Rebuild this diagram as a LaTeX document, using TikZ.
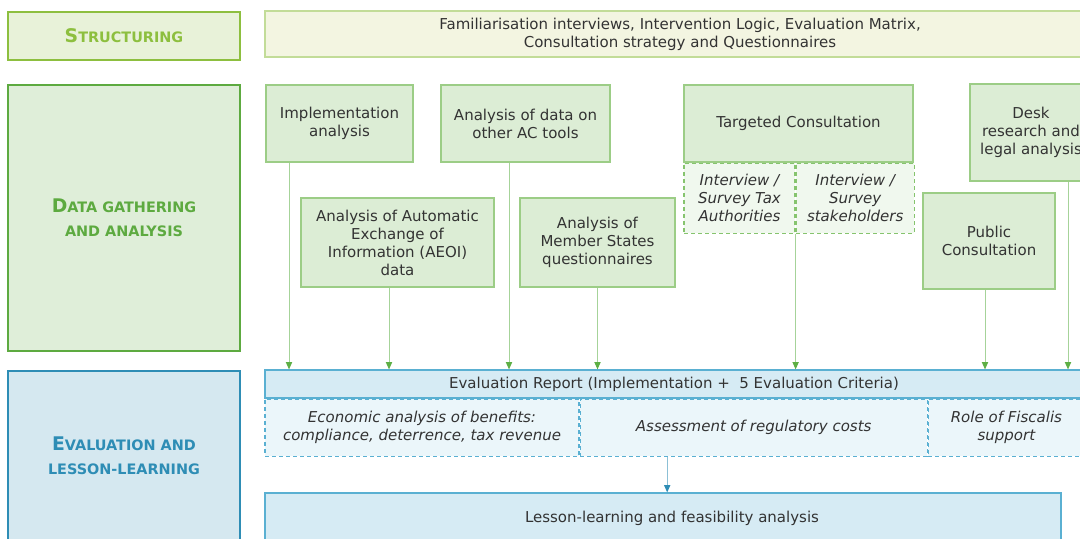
\documentclass[tikz,border=0pt]{standalone}
\usepackage{fontspec}
\setmainfont{DejaVu Sans}
\usetikzlibrary{arrows.meta,positioning}
\definecolor{strC}{HTML}{8DBF3F}
\definecolor{datC}{HTML}{5DAA40}
\definecolor{evaC}{HTML}{2E8DB5}
\definecolor{jauneC}{HTML}{C3CF6A}
\definecolor{jauneB}{HTML}{C2DC98}
\definecolor{vertB}{HTML}{9CCD86}
\definecolor{vertD}{HTML}{86C46E}
\definecolor{bleuB}{HTML}{5AB0D2}
\definecolor{fleV}{HTML}{5DAF45}
\definecolor{texte}{HTML}{333333}
% petites capitales simulees (grande initiale + reste en plus petit)
\newcommand{\capsc}[2]{{\fontsize{9.4}{10.5}\selectfont #1}{\fontsize{7.2}{10.5}\selectfont #2}}
\newcommand{\petit}[1]{{\fontsize{7.2}{10.5}\selectfont #1}}
\tikzset{
  tag/.style={rectangle, draw=#1, line width=1.2pt, fill=#1!20, text=#1,
              align=center, font=\bfseries, minimum width=116pt},
  boite/.style={rectangle, draw=#1, line width=0.6pt, fill=#1!35, text=texte,
                align=center, font=\fontsize{7.5}{9}\selectfont, inner sep=1pt},
  tiret/.style={rectangle, draw=#1, dash pattern=on 2pt off 1.5pt, line width=0.6pt, fill=#1!12,
                text=texte, align=center, font=\fontsize{7.5}{9}\selectfont\itshape, inner sep=1pt},
  fleche/.style={-{Triangle[length=1.3mm,width=1.1mm,color=#1]}, line width=0.5pt, draw=#1!55},
}
\begin{document}
\begin{tikzpicture}[x=0.5pt, y=-0.5pt, node distance=0pt]
  \useasboundingbox (0,0) rectangle (1080,538);
  \clip (0,0) rectangle (1080,538);
  % colonne des phases
  \node[tag=strC, minimum height=24pt] (lstr) at (124,36) {\capsc{S}{TRUCTURING}};
  \node[tag=datC, minimum height=133pt] (ldat) at (124,218)
    {\capsc{D}{ATA GATHERING}\\\petit{AND ANALYSIS}};
  \node[tag=evaC, minimum height=85pt] (leva) at (124,456)
    {\capsc{E}{VALUATION AND}\\\petit{LESSON-LEARNING}};
  % structuration
  \node[boite=jauneB, fill=jauneC!20, minimum width=415pt, minimum height=23pt] (cstr) at (680,34)
    {Familiarisation interviews, Intervention Logic, Evaluation Matrix,\\
     Consultation strategy and Questionnaires};
  % collecte des donnees
  \node[boite=vertB, minimum width=73.5pt, minimum height=38.5pt] (impl) at (339.5,123.5)
    {Implementation\\analysis};
  \node[boite=vertB, minimum width=84.5pt, minimum height=38.5pt] (actl) at (525.5,123.5)
    {Analysis of data on\\other AC tools};
  \node[boite=vertB, minimum width=114.5pt, minimum height=38.5pt] (targ) at (798.5,123.5)
    {Targeted Consultation};
  \node[tiret=vertD, minimum width=55.5pt, minimum height=35pt, below right=of targ.south west] (itax)
    {Interview /\\Survey Tax\\Authorities};
  \node[tiret=vertD, minimum width=59pt, minimum height=35pt, right=of itax] (istk)
    {Interview /\\Survey\\stakeholders};
  \node[boite=vertB, minimum width=61pt, minimum height=48.5pt] (desk) at (1031,132.5)
    {Desk\\research and\\legal analysis};
  \node[boite=vertB, minimum width=96.5pt, minimum height=44.5pt] (aeoi) at (397.5,242.5)
    {Analysis of Automatic\\Exchange of\\Information (AEOI)\\data};
  \node[boite=vertB, minimum width=77.5pt, minimum height=44.5pt] (msq) at (597.5,242.5)
    {Analysis of\\Member States\\questionnaires};
  \node[boite=vertB, minimum width=66pt, minimum height=48pt] (pubc) at (989,241)
    {Public\\Consultation};
  % evaluation
  \node[boite=bleuB, fill=bleuB!25, minimum width=409pt, minimum height=14pt] (er) at (674,384)
    {Evaluation Report (Implementation + \ 5 Evaluation Criteria)};
  \node[tiret=bleuB, minimum width=157pt, minimum height=28.5pt, below right=of er.south west] (econ)
    {Economic analysis of benefits:\\compliance, deterrence, tax revenue};
  \node[tiret=bleuB, minimum width=173.5pt, minimum height=28.5pt, right=of econ] (regc)
    {Assessment of regulatory costs};
  \node[tiret=bleuB, minimum width=78pt, minimum height=28.5pt, right=of regc] (fisc)
    {Role of Fiscalis\\support};
  \node[boite=bleuB, fill=bleuB!25, minimum width=398pt, minimum height=25pt] (les) at (663,518)
    {\hspace*{9pt}Lesson-learning and feasibility analysis};
  % fleches vers le rapport
  \draw[fleche=fleV] ([xshift=-25.25pt]impl.south) -- ([xshift=-25.25pt]impl.south |- er.north);
  \draw[fleche=fleV] ([xshift=-4.25pt]aeoi.south) -- ([xshift=-4.25pt]aeoi.south |- er.north);
  \draw[fleche=fleV] ([xshift=-8.25pt]actl.south) -- ([xshift=-8.25pt]actl.south |- er.north);
  \draw[fleche=fleV] (msq.south) -- (msq.south |- er.north);
  \draw[fleche=fleV] (itax.south east) -- (itax.south east |- er.north);
  \draw[fleche=fleV] ([xshift=-2pt]pubc.south) -- ([xshift=-2pt]pubc.south |- er.north);
  \draw[fleche=fleV] ([xshift=18.5pt]desk.south) -- ([xshift=18.5pt]desk.south |- er.north);
  \draw[fleche=evaC] ([xshift=-43.25pt]regc.south) -- ([xshift=-43.25pt]regc.south |- les.north);
\end{tikzpicture}
\end{document}
